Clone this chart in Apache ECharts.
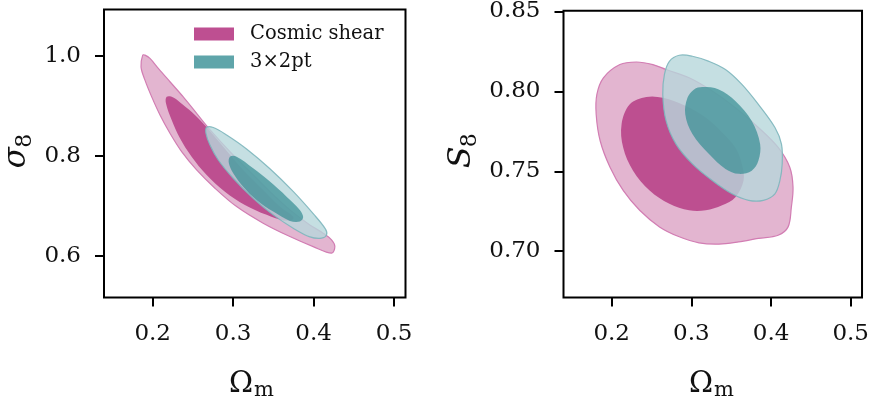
<!DOCTYPE html>
<html>
<head>
<meta charset="utf-8">
<script src="https://cdn.jsdelivr.net/npm/echarts@6/dist/echarts.min.js"></script>
<style>
  html, body { margin: 0; padding: 0; background: #fff; }
  #main { width: 872px; height: 406px; }
</style>
</head>
<body>
<div id="main"></div>
<script>
// tick values
var omTicks = [0.2, 0.3, 0.4, 0.5];
var sig8Ticks = [0.6, 0.8, 1.0];
var s8Ticks = [0.70, 0.75, 0.80, 0.85];

// contour outlines, [Omega_m, sigma_8] (left panel)
var csOuterSig = [
  [0.1876, 1.0014], [0.1855, 0.978], [0.1904, 0.9515], [0.1988, 0.918], [0.2091, 0.8818],
  [0.2215, 0.8453], [0.236, 0.8086], [0.2546, 0.7721], [0.2774, 0.7356], [0.3043, 0.6989],
  [0.3373, 0.6658], [0.3705, 0.6391], [0.3994, 0.6191], [0.4223, 0.606], [0.4264, 0.6191],
  [0.4223, 0.6325], [0.4118, 0.6459], [0.3953, 0.6624], [0.3705, 0.6923], [0.3457, 0.7288],
  [0.3208, 0.7687], [0.296, 0.8086], [0.2733, 0.8485], [0.2546, 0.8851], [0.238, 0.918],
  [0.2215, 0.9482], [0.207, 0.9749], [0.1966, 0.9948], [0.1904, 1.0014]
];
var csInnerSig = [
  [0.2174, 0.9182], [0.2165, 0.9051], [0.2236, 0.8718], [0.2339, 0.8353], [0.2484, 0.7986],
  [0.2671, 0.7621], [0.2898, 0.7288], [0.3146, 0.7023], [0.3416, 0.6824], [0.3622, 0.6714],
  [0.3742, 0.6734], [0.3746, 0.679], [0.3581, 0.6989], [0.3373, 0.7322], [0.3125, 0.7721],
  [0.2877, 0.8185], [0.2671, 0.8572], [0.2525, 0.8818], [0.238, 0.9017], [0.2256, 0.917]
];
var x2OuterSig = [
  [0.2671, 0.8572], [0.2753, 0.8568], [0.2919, 0.8419], [0.3167, 0.814], [0.3457, 0.7745],
  [0.3746, 0.7292], [0.4003, 0.6833], [0.4146, 0.6544], [0.4161, 0.6425], [0.4099, 0.6359],
  [0.3953, 0.6385], [0.3746, 0.6558], [0.3498, 0.6824], [0.3249, 0.7157], [0.3001, 0.7555],
  [0.2815, 0.792], [0.2712, 0.8219], [0.2662, 0.8453]
];
var x2InnerSig = [
  [0.296, 0.7986], [0.3043, 0.7986], [0.3249, 0.7755], [0.3457, 0.7488], [0.3664, 0.7188],
  [0.3829, 0.6923], [0.387, 0.6774], [0.3829, 0.669], [0.3705, 0.6704], [0.3498, 0.6889],
  [0.3291, 0.7123], [0.3125, 0.7388], [0.3001, 0.7655], [0.2947, 0.7854]
];

// contour outlines, [Omega_m, S_8] (right panel)
var csOuterS8 = [
  [0.1896, 0.8085], [0.2103, 0.8168], [0.231, 0.8184], [0.2517, 0.8168], [0.2683, 0.8137],
  [0.2972, 0.8085], [0.3262, 0.8002], [0.3552, 0.7898], [0.3841, 0.7774], [0.4089, 0.7649],
  [0.4235, 0.7525], [0.4276, 0.74], [0.4255, 0.7276], [0.4214, 0.7152], [0.4089, 0.71],
  [0.3841, 0.708], [0.3593, 0.7058], [0.3345, 0.7044], [0.3096, 0.7052], [0.2848, 0.709],
  [0.26, 0.7152], [0.2351, 0.7256], [0.2144, 0.738], [0.1979, 0.7525], [0.1855, 0.7691],
  [0.1805, 0.7857], [0.1814, 0.7981]
];
var csInnerS8 = [
  [0.2124, 0.7795], [0.2227, 0.7919], [0.2435, 0.7965], [0.2641, 0.796], [0.2931, 0.7909],
  [0.318, 0.7836], [0.3386, 0.7743], [0.3552, 0.7649], [0.3634, 0.7546], [0.3655, 0.7442],
  [0.3552, 0.7338], [0.3386, 0.7287], [0.318, 0.7256], [0.2972, 0.7256], [0.2724, 0.7297],
  [0.2476, 0.738], [0.2268, 0.7504], [0.2144, 0.7649]
];
var x2OuterS8 = [
  [0.2724, 0.8188], [0.2848, 0.8226], [0.3013, 0.822], [0.3221, 0.8188], [0.3428, 0.8137],
  [0.3634, 0.8044], [0.3841, 0.7919], [0.4049, 0.7774], [0.4131, 0.767], [0.414, 0.7546],
  [0.4111, 0.7442], [0.4049, 0.7359], [0.3904, 0.7318], [0.3718, 0.7318], [0.351, 0.7359],
  [0.3262, 0.7442], [0.3013, 0.7546], [0.2807, 0.767], [0.2683, 0.7815], [0.2641, 0.7981],
  [0.2662, 0.8106]
];
var x2InnerS8 = [
  [0.3034, 0.8012], [0.3137, 0.8027], [0.3344, 0.8012], [0.3552, 0.794], [0.3758, 0.7815],
  [0.3863, 0.767], [0.3842, 0.7567], [0.3758, 0.7504], [0.3593, 0.7484], [0.3428, 0.7515],
  [0.3221, 0.7608], [0.3013, 0.7733], [0.2923, 0.7857], [0.2951, 0.796]
];

var FONT = 'DejaVu Serif';
var chart = echarts.init(document.getElementById('main'), null, { renderer: 'canvas' });

function contour(name, idx, pts, fill, stroke, z) {
  return {
    type: 'custom',
    name: name,
    xAxisIndex: idx,
    yAxisIndex: idx,
    z: z,
    silent: true,
    data: pts,
    encode: { x: 0, y: 1 },
    renderItem: function (params, api) {
      if (params.dataIndex !== 0) return null;
      var points = pts.map(function (p) { return api.coord(p); });
      return {
        type: 'polygon',
        shape: { points: points, smooth: 0.35 },
        style: { fill: fill, stroke: stroke || 'none', lineWidth: stroke ? 1.2 : 0 }
      };
    }
  };
}

function xAxisDef(idx) {
  return {
    type: 'value', gridIndex: idx, min: 0.1395, max: 0.5142,
    splitLine: { show: false },
    axisLine: { show: false },
    axisTick: { show: true, length: 9, customValues: omTicks, lineStyle: { color: '#000', width: 2 } },
    axisLabel: {
      customValues: omTicks, margin: 25,
      fontFamily: FONT, fontSize: 23, color: '#111',
      formatter: function (v) { return v.toFixed(1); }
    }
  };
}

function yAxisDef(idx, min, max, ticks, dec) {
  return {
    type: 'value', gridIndex: idx, min: min, max: max,
    splitLine: { show: false },
    axisLine: { show: false },
    axisTick: { show: true, length: 9, customValues: ticks, lineStyle: { color: '#000', width: 2 } },
    axisLabel: {
      customValues: ticks, margin: 23,
      fontFamily: FONT, fontSize: 23, color: '#111',
      formatter: function (v) { return v.toFixed(dec); }
    }
  };
}

// axis titles with subscripts
function flatTitle(x, big, small) {
  return {
    type: 'group', x: x, y: 0, silent: true,
    children: [
      { type: 'text', x: 0, y: 384.5, style: { text: big, font: '29px "DejaVu Serif"', fill: '#111', verticalAlign: 'middle' } },
      { type: 'text', x: 25, y: 391, style: { text: small, font: '21px "DejaVu Serif"', fill: '#111', verticalAlign: 'middle' } }
    ]
  };
}
function sideTitle(x, y, big, bigSize, small, off) {
  return {
    type: 'group', x: x, y: y, rotation: Math.PI / 2, silent: true,
    children: [
      { type: 'text', x: 0, y: -0.3 * bigSize, style: { text: big, font: 'italic ' + bigSize + 'px "DejaVu Serif"', fill: '#111', verticalAlign: 'middle' } },
      { type: 'text', x: off, y: 5.5 - 0.3 * 22, style: { text: small, font: '22px "DejaVu Serif"', fill: '#111', verticalAlign: 'middle' } }
    ]
  };
}

var pinkOuter = '#E3B5D0', pinkLine = '#D27DB3', pinkInner = '#BD4F90';
var tealOuter = 'rgba(182,215,219,0.8)', tealLine = 'rgba(125,182,188,0.9)', tealInner = 'rgba(62,146,151,0.75)';

chart.setOption({
  animation: false,
  backgroundColor: '#fff',
  grid: [
    { left: 104, top: 9.5, width: 301.5, height: 288, show: true, borderColor: '#000', borderWidth: 2, backgroundColor: 'transparent' },
    { left: 563.5, top: 9.5, width: 301.5, height: 288, show: true, borderColor: '#000', borderWidth: 2, backgroundColor: 'transparent' }
  ],
  xAxis: [xAxisDef(0), xAxisDef(1)],
  yAxis: [
    yAxisDef(0, 0.5174, 1.0925, sig8Ticks, 1),
    yAxisDef(1, 0.671, 0.8504, s8Ticks, 2)
  ],
  legend: {
    left: 189, top: 19, orient: 'vertical', icon: 'rect',
    itemWidth: 40, itemHeight: 13, itemGap: 8, selectedMode: false,
    textStyle: { fontFamily: FONT, fontSize: 19.5, color: '#111', padding: [0, 0, 0, 11] },
    data: [
      { name: 'Cosmic shear', itemStyle: { color: '#BE4F91' } },
      { name: '3×2pt', itemStyle: { color: '#5FA5AA' } }
    ]
  },
  graphic: [
    flatTitle(229, 'Ω', 'm'),
    flatTitle(689, 'Ω', 'm'),
    sideTitle(26, 168.3, 'σ', 31, '8', 20.5),
    sideTitle(471.5, 168.3, 'S', 32, '8', 21)
  ],
  series: [
    contour('cs outer', 0, csOuterSig, pinkOuter, pinkLine, 2),
    contour('Cosmic shear', 0, csInnerSig, pinkInner, null, 3),
    contour('x2 outer', 0, x2OuterSig, tealOuter, tealLine, 4),
    contour('3×2pt', 0, x2InnerSig, tealInner, null, 5),
    contour('cs outer r', 1, csOuterS8, pinkOuter, pinkLine, 2),
    contour('Cosmic shear', 1, csInnerS8, pinkInner, null, 3),
    contour('x2 outer r', 1, x2OuterS8, tealOuter, tealLine, 4),
    contour('3×2pt', 1, x2InnerS8, tealInner, null, 5)
  ]
});
</script>
</body>
</html>
